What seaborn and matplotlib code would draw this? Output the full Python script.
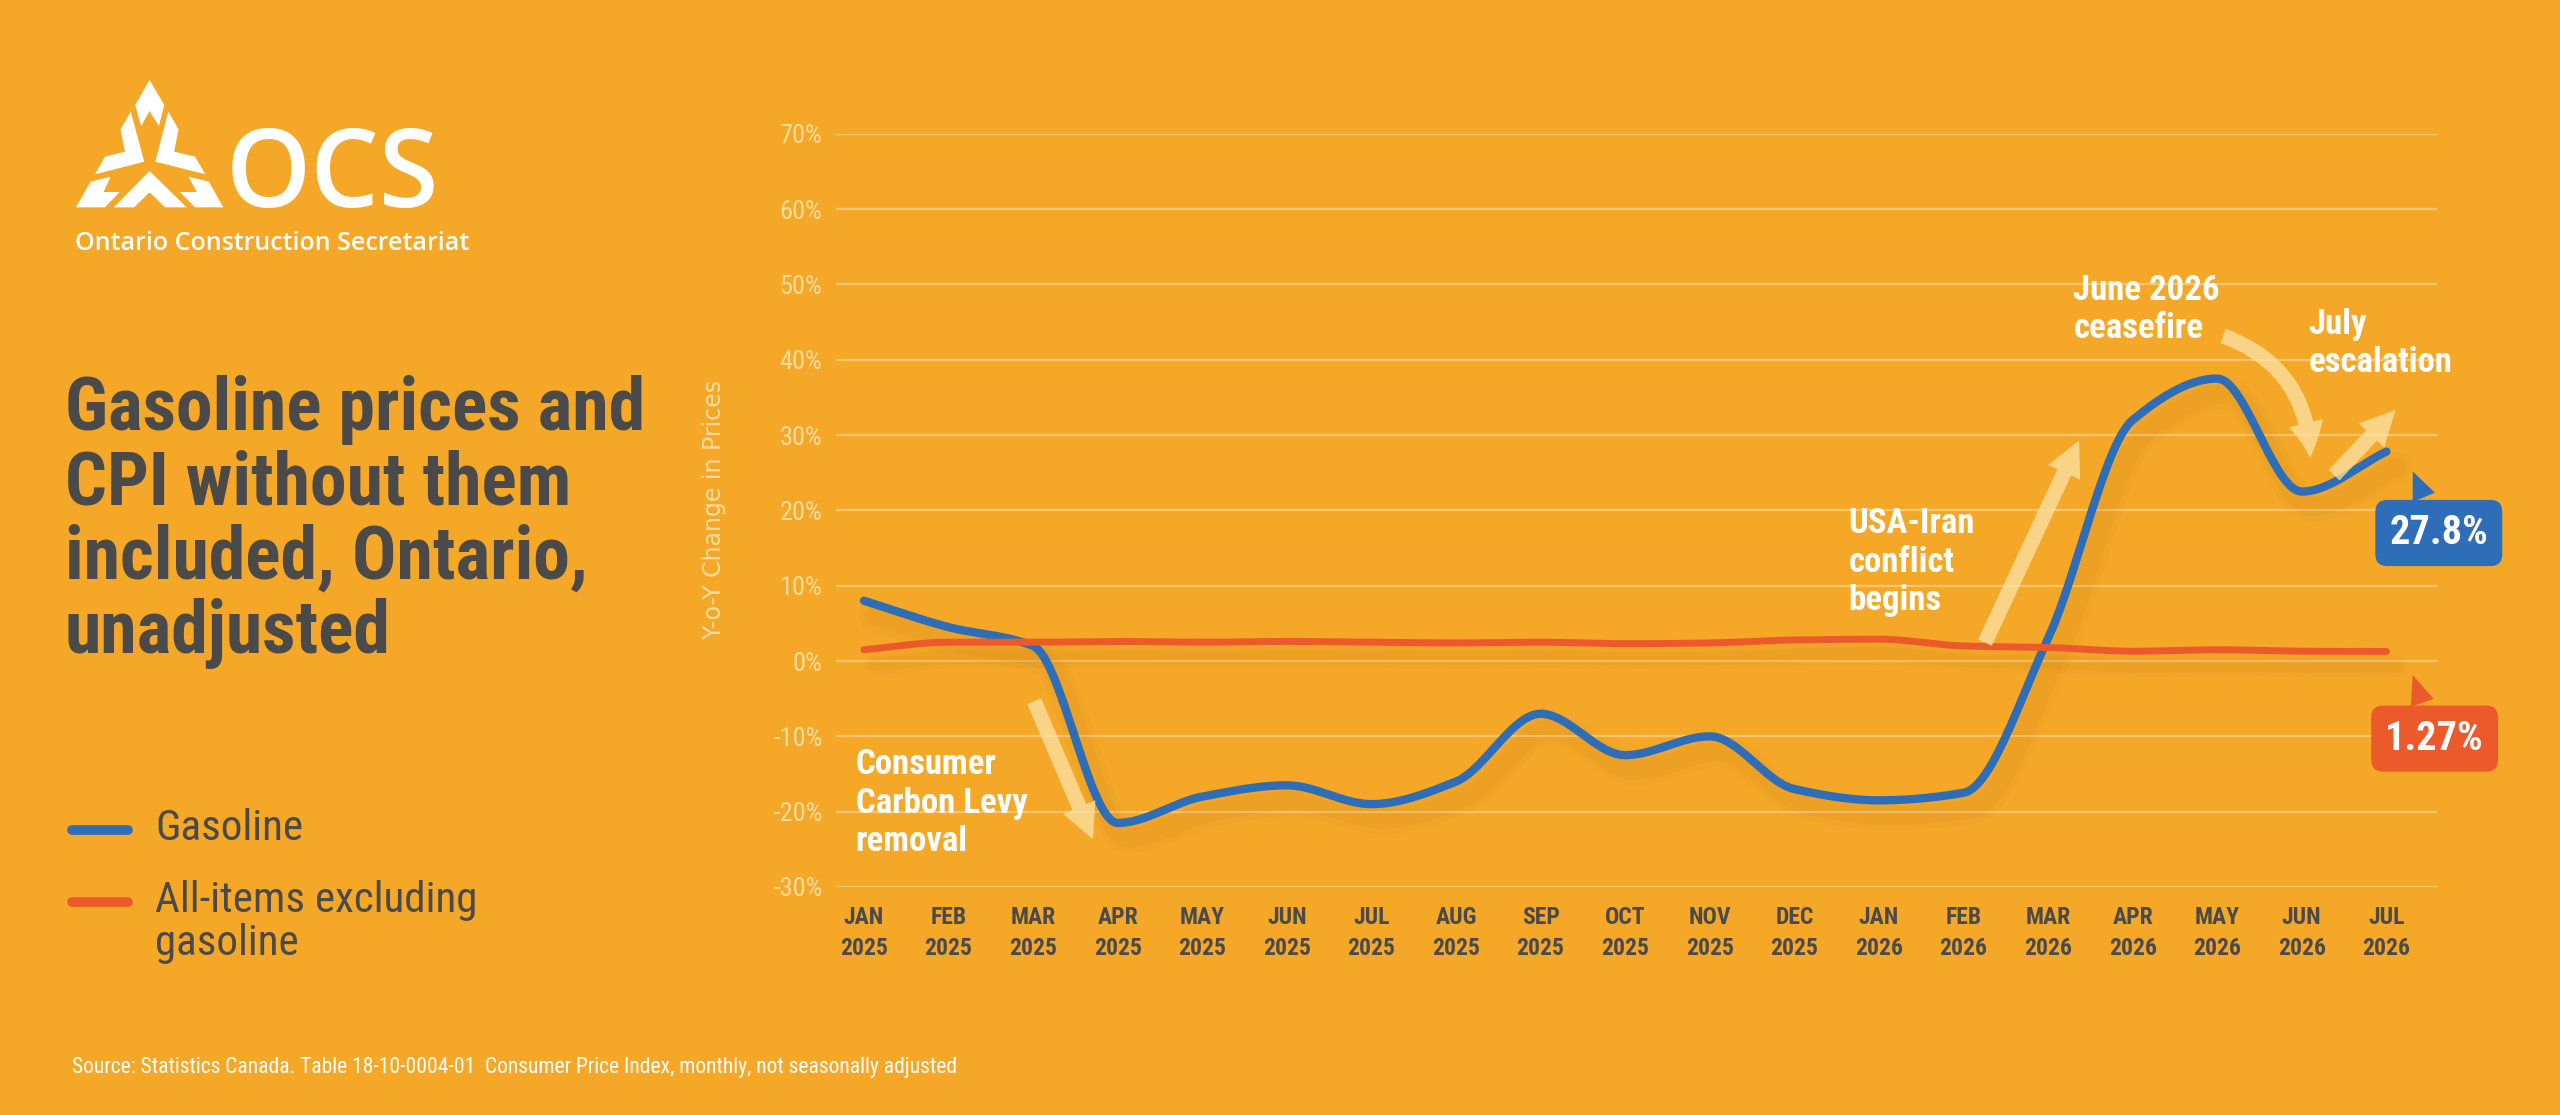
import numpy as np
import pandas as pd
import matplotlib.pyplot as plt
import seaborn as sns
from matplotlib.patches import Polygon, FancyArrowPatch
from matplotlib import font_manager

# ---------------- data ----------------
months = ['JAN\n2025', 'FEB\n2025', 'MAR\n2025', 'APR\n2025', 'MAY\n2025', 'JUN\n2025',
          'JUL\n2025', 'AUG\n2025', 'SEP\n2025', 'OCT\n2025', 'NOV\n2025', 'DEC\n2025',
          'JAN\n2026', 'FEB\n2026', 'MAR\n2026', 'APR\n2026', 'MAY\n2026', 'JUN\n2026',
          'JUL\n2026']
gasoline = [8.0, 4.5, 2.0, -21.5, -18.0, -16.5, -19.0, -16.0, -7.0, -12.5, -10.0, -17.0,
            -18.5, -17.5, 3.0, 32.0, 37.5, 22.5, 27.8]
all_items_ex_gas = [1.5, 2.5, 2.5, 2.6, 2.5, 2.6, 2.5, 2.4, 2.5, 2.3, 2.4, 2.8,
                    2.9, 2.0, 1.8, 1.3, 1.5, 1.3, 1.27]
yticks = [-30, -20, -10, 0, 10, 20, 30, 40, 50, 60, 70]

BG = '#F5A828'
BLUE = '#2E6DB8'
RED = '#EC5A2C'
DARK = '#4A4A4A'
PALE = '#FCDDA0'

names = {f.name for f in font_manager.fontManager.ttflist}
COND = [n for n in ['Roboto Condensed', 'Liberation Sans Narrow', 'Roboto'] if n in names] + ['DejaVu Sans']


def smooth(y, n=30):
    # monotone cubic Hermite curve through the monthly points, for a smooth drawn line
    y = np.asarray(y, float)
    x = np.arange(len(y))
    d = np.diff(y)
    m = np.zeros_like(y)
    m[0], m[-1] = d[0], d[-1]
    for i in range(1, len(y) - 1):
        if d[i - 1] * d[i] > 0:
            m[i] = 2 * d[i - 1] * d[i] / (d[i - 1] + d[i])
    xs, ys = [], []
    for i in range(len(y) - 1):
        t = np.linspace(0, 1, n, endpoint=False)
        h00 = 2 * t**3 - 3 * t**2 + 1
        h10 = t**3 - 2 * t**2 + t
        h01 = -2 * t**3 + 3 * t**2
        h11 = t**3 - t**2
        xs.append(x[i] + t)
        ys.append(h00 * y[i] + h10 * m[i] + h01 * y[i + 1] + h11 * m[i + 1])
    xs.append([x[-1]]); ys.append([y[-1]])
    return np.concatenate(xs), np.concatenate(ys)


gx, gy = smooth(gasoline)
cx, cy = smooth(all_items_ex_gas)
df = pd.concat([
    pd.DataFrame({'x': gx, 'y': gy, 'series': 'Gasoline'}),
    pd.DataFrame({'x': cx, 'y': cy, 'series': 'All-items excluding gasoline'}),
])

sns.set_theme(style='white')
plt.rcParams['font.family'] = COND

fig = plt.figure(figsize=(25.6, 11.15), dpi=100, facecolor=BG)
ax = fig.add_axes([0.3266, 0.2045, 0.6254, 0.6755])
ax.set_facecolor(BG)

for yt in yticks:
    ax.axhline(yt, color='#F9C66E', lw=1.6, zorder=0)

# soft shadows
for w, a in [(22, 0.05), (14, 0.07)]:
    ax.plot(gx + 0.12, gy - 2.0, color='#B8700F', lw=w, alpha=a, solid_capstyle='round', zorder=1)
    ax.plot(cx + 0.12, cy - 2.0, color='#B8700F', lw=w * 0.7, alpha=a, solid_capstyle='round', zorder=1)

sns.lineplot(data=df, x='x', y='y', hue='series', palette={'Gasoline': BLUE,
             'All-items excluding gasoline': RED}, linewidth=6, legend=False,
             sort=False, ax=ax, zorder=3)
ax.lines[-1].set_linewidth(5)

ax.set_xlim(-0.33, 18.6)
ax.set_ylim(-30, 70)
ax.set_yticks(yticks)
ax.set_yticklabels([f'{v}%' for v in yticks], color=PALE, fontsize=19)
ax.set_xticks(range(len(months)))
ax.set_xticklabels(months, color=DARK, fontsize=17, fontweight='bold', linespacing=1.4)
ax.tick_params(axis='both', length=0, pad=10)
ax.tick_params(axis='x', pad=14)
for s in ax.spines.values():
    s.set_visible(False)
ax.set_xlabel('')
ax.set_ylabel('Y-o-Y Change in Prices', color=PALE, fontsize=17,
              family=['DejaVu Sans'], labelpad=34)

# annotations
ann = dict(color='white', fontsize=25, fontweight='bold', va='top', ha='left', linespacing=1.2)
ax.text(-0.1, -11.6, 'Consumer\nCarbon Levy\nremoval', **ann)
ax.text(11.64, 20.4, 'USA-Iran\nconflict\nbegins', **ann)
ax.text(14.3, 51.4, 'June 2026\nceasefire', **ann)
ax.text(17.08, 46.9, 'July\nescalation', **ann)

arr = dict(arrowstyle='simple,head_width=1.4,head_length=1.4,tail_width=0.6',
           color='#FDE3A6', alpha=0.75, lw=0, zorder=4)
ax.add_patch(FancyArrowPatch((2.0, -5), (2.72, -24), mutation_scale=18, **arr))
ax.add_patch(FancyArrowPatch((13.24, 2.1), (14.38, 29.6), mutation_scale=18, **arr))
ax.add_patch(FancyArrowPatch((16.04, 43.3), (17.1, 26.6), mutation_scale=18,
                             connectionstyle='arc3,rad=-0.35', **arr))
ax.add_patch(FancyArrowPatch((17.36, 24.4), (18.13, 33.6), mutation_scale=18, **arr))

# end badges
for txt, xy, xyt, col in [('27.8%', (18.3, 25.5), (18.62, 17.0), BLUE),
                          ('1.27%', (18.3, -1.5), (18.57, -10.3), RED)]:
    ax.annotate(txt, xy=xy, xytext=xyt, ha='center', va='center',
                color='white', fontsize=29, fontweight='bold', annotation_clip=False,
                bbox=dict(boxstyle='round,pad=0.35,rounding_size=0.3', fc=col, ec='none'),
                arrowprops=dict(arrowstyle='wedge,tail_width=0.6', fc=col, ec='none'))

# ---------------- left panel ----------------
W, H = 2560, 1115
def fx(px): return px / W
def fy(py): return 1 - py / H

fig.text(fx(65), fy(375), 'Gasoline prices and\nCPI without them\nincluded, Ontario,\nunadjusted',
         color=DARK, fontsize=53, fontweight='bold', va='top', ha='left', linespacing=1.08)

for ypx, col, lab in [(830, BLUE, 'Gasoline'), (902, RED, 'All-items excluding\ngasoline')]:
    fig.add_artist(plt.Line2D([fx(72), fx(128)], [fy(ypx), fy(ypx)], color=col, lw=7))
    fig.text(fx(155), fy(ypx - 22), lab, color=DARK, fontsize=31, va='top', ha='left',
             linespacing=1.05)

fig.text(fx(72), fy(1073), 'Source: Statistics Canada. Table 18-10-0004-01  Consumer Price Index, '
         'monthly, not seasonally adjusted', color='white', fontsize=15.5, va='baseline')

# logo: simplified mark + wordmark (pixel coords measured from a 2.24x / 3x crop)
logo_zoom = [
    [(335, 240), (368, 315), (356, 378), (335, 333), (316, 378), (303, 315)],
    [(293, 335), (323, 485), (213, 523), (235, 470), (280, 455), (270, 388)],
    [(377, 335), (400, 388), (390, 455), (437, 470), (460, 523), (348, 485)],
    [(335, 513), (418, 622), (370, 622), (335, 577), (300, 622), (255, 622)],
    [(203, 545), (248, 530), (232, 576), (268, 576), (235, 622), (170, 622)],
    [(422, 530), (468, 545), (500, 622), (437, 622), (403, 576), (441, 576)],
]
for poly in logo_zoom:
    fig.add_artist(Polygon([(fx(a / 2.24), fy(b / 3.0)) for a, b in poly], closed=True,
                           fc='white', ec='none', transform=fig.transFigure))
fig.text(fx(226), fy(207), 'OCS', color='white', fontsize=78, fontweight='semibold',
         family=['Open Sans', 'DejaVu Sans'], va='baseline', ha='left')
fig.text(fx(75), fy(250), 'Ontario Construction Secretariat', color='white', fontsize=18,
         family=['Open Sans', 'DejaVu Sans'], fontweight='semibold', va='baseline', ha='left')

fig.savefig('out.png', dpi=100, facecolor=BG)
